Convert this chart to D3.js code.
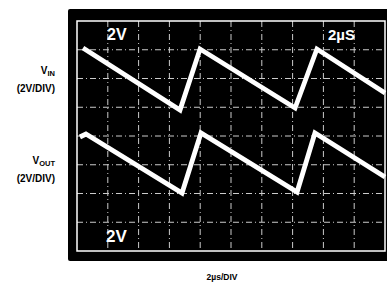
<!DOCTYPE html>
<html>
<head>
<meta charset="utf-8">
<script src="https://cdn.jsdelivr.net/npm/d3@7"></script>
<style>
  body { margin: 0; background: #fff; }
  svg { display: block; }
</style>
</head>
<body>
<div id="chart"></div>
<script>
// scope trace (time in us, volts)
const vinTime = [0.39, 6.69, 7.99, 14.16, 15.58, 20];
const vinVolts = [6.12, 1.81, 6.05, 1.95, 6.05, 2.99];
const voutTime = [0.19, 0.58, 6.82, 8.05, 14.29, 15.45, 20];
const voutVolts = [-0.07, 0.14, -3.97, 0.21, -3.9, 0.21, -2.85];
// graticule: 10 x 8 divisions, 2us/div and 2V/div
const timeGrid = [0, 2, 4, 6, 8, 10, 12, 14, 16, 18, 20];
const voltGrid = [-8, -6, -4, -2, 0, 2, 4, 6, 8];

const width = 387, height = 287;
const screen = { x: 68, y: 9, w: 322, h: 252 };
const plot = { left: 77, right: 385, top: 21, bottom: 251 };

const svg = d3.select("#chart").append("svg")
  .attr("width", width)
  .attr("height", height);

const x = d3.scaleLinear().domain([0, 20]).range([plot.left, plot.right]);
const y = d3.scaleLinear().domain([-8, 8]).range([plot.bottom, plot.top]);

svg.append("rect")
  .attr("x", screen.x).attr("y", screen.y)
  .attr("width", screen.w).attr("height", screen.h)
  .attr("rx", 2)
  .attr("fill", "#000");

const grid = svg.append("g")
  .attr("stroke", "#fff")
  .attr("stroke-width", 1)
  .attr("stroke-dasharray", "6,3,1,3")
  .attr("opacity", 0.8);

grid.selectAll(".vline").data(timeGrid.slice(1, -1)).join("line")
  .attr("class", "vline")
  .attr("x1", d => x(d)).attr("x2", d => x(d))
  .attr("y1", plot.top).attr("y2", plot.bottom);

grid.selectAll(".hline").data(voltGrid.slice(1, -1)).join("line")
  .attr("class", "hline")
  .attr("y1", d => y(d)).attr("y2", d => y(d))
  .attr("x1", plot.left).attr("x2", plot.right);

// border of the graticule
svg.append("rect")
  .attr("x", plot.left).attr("y", plot.top)
  .attr("width", plot.right - plot.left)
  .attr("height", plot.bottom - plot.top)
  .attr("fill", "none")
  .attr("stroke", "#fff")
  .attr("stroke-width", 1.5);

const line = d3.line()
  .x(d => x(d[0]))
  .y(d => y(d[1]));

const traces = [
  d3.zip(vinTime, vinVolts),
  d3.zip(voutTime, voutVolts)
];

svg.append("g")
  .selectAll("path").data(traces).join("path")
  .attr("d", line)
  .attr("fill", "none")
  .attr("stroke", "#fff")
  .attr("stroke-width", 4.8)
  .attr("stroke-linejoin", "miter");

// on-screen labels
const scr = svg.append("g")
  .attr("fill", "#fff")
  .attr("font-family", "Liberation Sans, Arial, sans-serif")
  .attr("font-weight", "bold");

scr.append("text").attr("x", 107).attr("y", 40)
  .attr("font-size", 16).text("2V");
scr.append("text").attr("x", 106).attr("y", 242)
  .attr("font-size", 17).text("2V");
scr.append("text").attr("x", 328).attr("y", 40)
  .attr("font-size", 15).text("2µS");

// channel labels on the left
const lab = svg.append("g")
  .attr("fill", "#000")
  .attr("font-family", "Liberation Sans, Arial, sans-serif")
  .attr("font-weight", "bold")
  .attr("text-anchor", "end");

function channel(yPos, sub) {
  const t = lab.append("text").attr("x", 55).attr("y", yPos).attr("font-size", 10);
  t.append("tspan").text("V");
  t.append("tspan").attr("font-size", 7.5).attr("dy", 2).text(sub);
  lab.append("text").attr("x", 55).attr("y", yPos + 18)
    .attr("font-size", 10).text("(2V/DIV)");
}
channel(74, "IN");
channel(164, "OUT");

svg.append("text")
  .attr("x", 222).attr("y", 280)
  .attr("text-anchor", "middle")
  .attr("font-family", "Liberation Sans, Arial, sans-serif")
  .attr("font-weight", "bold")
  .attr("font-size", 8.5)
  .text("2µs/DIV");
</script>
</body>
</html>
